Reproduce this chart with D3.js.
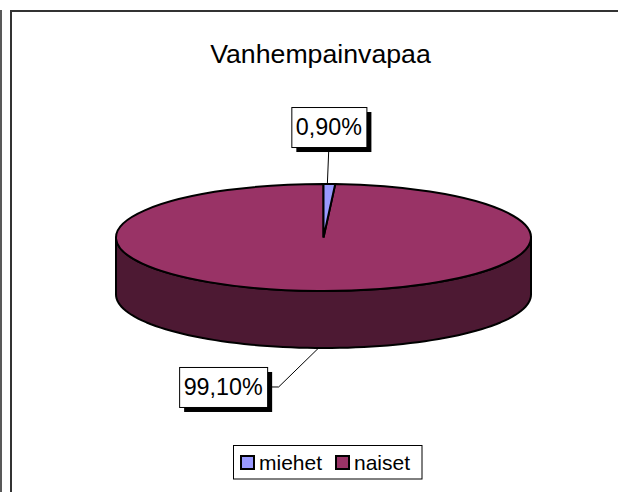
<!DOCTYPE html>
<html>
<head>
<meta charset="utf-8">
<script src="https://cdn.jsdelivr.net/npm/d3@7"></script>
<style>
  html, body { margin: 0; padding: 0; background: #fff; }
  svg { display: block; font-family: "Liberation Sans", Arial, sans-serif; }
</style>
</head>
<body>
<svg id="chart" width="618" height="492"></svg>
<script>
// ---- data ----
const title = "Vanhempainvapaa";
const categories = ["miehet", "naiset"];
const values = [0.9, 99.1];
const valueLabels = ["0,90%", "99,10%"];
const topColors = ["#9999FF", "#993366"];
const sideColors = ["#4D4D80", "#4D1933"];

// ---- layout ----
const W = 618, H = 492;
const cx = 323.5, cy = 237.5, rx = 207.5, ry = 53.5, depth = 57;

const svg = d3.select("#chart");

// outer frames
svg.append("line").attr("x1", 1).attr("x2", 1).attr("y1", 10).attr("y2", H)
  .attr("stroke", "#222").attr("stroke-width", 1.5);
svg.append("rect").attr("x", 11).attr("y", 11).attr("width", W + 20).attr("height", H + 20)
  .attr("fill", "#fff").attr("stroke", "#333").attr("stroke-width", 2);

// title
svg.append("text").attr("x", 320.5).attr("y", 63).attr("text-anchor", "middle")
  .attr("font-size", 26.7).attr("fill", "#000").text(title);

const data = categories.map((c, i) => ({ name: c, value: values[i], label: valueLabels[i], top: topColors[i], side: sideColors[i] }));
const pie = d3.pie().sort(null).value(d => d.value);
const arcs = pie(data);

// point on ellipse for a d3 pie angle (0 = top, clockwise)
const pt = (a, yOff = 0) => [cx + rx * Math.sin(a), cy - ry * Math.cos(a) + yOff];

const g = svg.append("g");

// sides (front half only visible: angles PI/2 .. 3PI/2)
arcs.forEach(a => {
  const s = Math.max(a.startAngle, Math.PI / 2), e = Math.min(a.endAngle, 3 * Math.PI / 2);
  if (e <= s) return;
  const p = d3.path();
  const steps = 80;
  for (let k = 0; k <= steps; k++) {
    const ang = s + (e - s) * k / steps;
    const [x, y] = pt(ang);
    if (k === 0) p.moveTo(x, y); else p.lineTo(x, y);
  }
  for (let k = steps; k >= 0; k--) {
    const ang = s + (e - s) * k / steps;
    const [x, y] = pt(ang, depth);
    p.lineTo(x, y);
  }
  p.closePath();
  g.append("path").attr("d", p.toString()).attr("fill", a.data.side)
    .attr("stroke", "#000").attr("stroke-width", 2).attr("stroke-linejoin", "round");
});

// top faces
const arcGen = d3.arc().innerRadius(0).outerRadius(rx);
arcs.slice().reverse().forEach(a => {
  g.append("path").attr("d", arcGen(a))
    .attr("transform", `translate(${cx},${cy}) scale(1,${ry / rx})`)
    .attr("fill", a.data.top).attr("stroke", "#000").attr("stroke-width", 2)
    .attr("vector-effect", "non-scaling-stroke").attr("stroke-linejoin", "miter");
});

// labels
const fs = 23.3;
function labelBox(text, cxBox, cyBox) {
  const lg = svg.append("g");
  const t = lg.append("text").attr("font-size", fs).attr("text-anchor", "middle")
    .attr("x", cxBox).attr("y", cyBox + 8.3).text(text);
  const w = t.node().getComputedTextLength() + 9, h = 40;
  lg.insert("rect", "text").attr("x", cxBox - w / 2 + 5).attr("y", cyBox - h / 2 + 5)
    .attr("width", w).attr("height", h).attr("fill", "#000");
  lg.insert("rect", "text").attr("x", cxBox - w / 2 + 0.5).attr("y", cyBox - h / 2 + 0.5)
    .attr("width", w).attr("height", h).attr("fill", "#fff").attr("stroke", "#000").attr("stroke-width", 1);
  return { w, h };
}

// miehet label (above)
{
  const a = arcs[0];
  const mid = (a.startAngle + a.endAngle) / 2;
  const [ax, ay] = pt(mid);
  const bx = ax - 0.5, by = ay - 57;
  svg.append("line").attr("x1", bx).attr("y1", by + 20).attr("x2", ax - 2).attr("y2", ay)
    .attr("stroke", "#000").attr("stroke-width", 1);
  labelBox(a.data.label, bx, by);
}
// naiset label (below-left)
{
  const a = arcs[1];
  const mid = (a.startAngle + a.endAngle) / 2;
  const [ax, ay] = pt(mid, depth);
  const bx = ax - 94.5, by = ay + 39;
  svg.append("polyline")
    .attr("points", [[bx + 44, by], [ax - 39, by], [ax + 1, ay]].map(p => p.join(",")).join(" "))
    .attr("fill", "none").attr("stroke", "#000").attr("stroke-width", 1);
  labelBox(a.data.label, bx, by);
}

// legend
const lgd = svg.append("g");
lgd.append("rect").attr("x", 233.5).attr("y", 445.5).attr("width", 188.5).attr("height", 33.5)
  .attr("fill", "#fff").attr("stroke", "#000").attr("stroke-width", 1);
const legX = [241, 336];
data.forEach((d, i) => {
  lgd.append("rect").attr("x", legX[i]).attr("y", 456).attr("width", 13).attr("height", 13)
    .attr("fill", d.top).attr("stroke", "#000").attr("stroke-width", 2);
  lgd.append("text").attr("x", legX[i] + 18).attr("y", 469.5).attr("font-size", 21)
    .attr("fill", "#000").text(d.name);
});
</script>
</body>
</html>
